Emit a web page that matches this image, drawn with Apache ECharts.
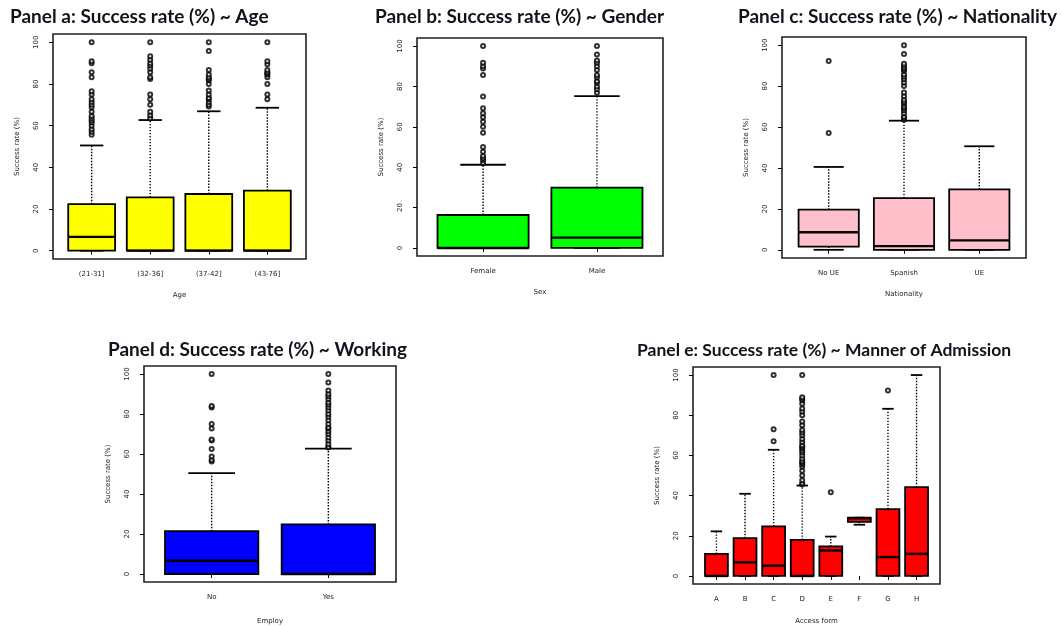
<!DOCTYPE html>
<html>
<head>
<meta charset="utf-8">
<script src="https://cdn.jsdelivr.net/npm/echarts@6/dist/echarts.min.js"></script>
<style>
html,body{margin:0;padding:0;background:#fff;}
#chart{width:1062px;height:626px;}
</style>
</head>
<body>
<div id="chart"></div>
<script>
// ---------- DATA ----------
const yTicks = [0, 20, 40, 60, 80, 100];

// Panel a: Age
const catsAge = ['(21-31]', '(32-36]', '(37-42]', '(43-76]'];
// [lower whisker, Q1, median, Q3, upper whisker]
const statsAge = [
  [0, 0, 6.6, 22.3, 50.5],
  [0, 0, 0, 25.6, 62.7],
  [0, 0, 0, 27.2, 66.9],
  [0, 0, 0, 28.8, 68.6]
];
const outAge = [
  [55.6, 57.1, 58.3, 60, 61.5, 62.5, 63.6, 64.7, 66.7, 68.8, 70, 71.4, 72.7, 75, 76.5, 83.3, 85.7, 90, 90.9, 100],
  [63.6, 65, 66.7, 70, 72.7, 75, 82.4, 83.3, 85.7, 87.5, 88.9, 90, 91.7, 93.3, 100],
  [69.2, 70, 71.4, 72.7, 73.3, 75, 76.9, 80, 81.8, 82.4, 83.3, 84.6, 86.7, 95.8, 100],
  [72.7, 75, 80, 83.3, 84.6, 85, 85.7, 86.7, 89.5, 90.9, 100]
];

// Panel b: Gender
const catsSex = ['Female', 'Male'];
const statsSex = [
  [0, 0, 0, 16.3, 41.2],
  [0, 0, 5.1, 29.9, 75.2]
];
const outSex = [
  [42.1, 43.5, 44.4, 45.5, 47.6, 50, 57.1, 60, 62.5, 64.7, 66.7, 69.2, 75, 85.7, 88.9, 90, 91.7, 100],
  [76.9, 78.6, 80, 81.8, 82.6, 84.6, 85.7, 88.2, 90, 91.7, 92.9, 95.8, 100]
];

// Panel c: Nationality
const catsNat = ['No UE', 'Spanish', 'UE'];
const statsNat = [
  [0, 1.6, 8.6, 19.6, 40.5],
  [0, 0, 1.8, 25.3, 63.1],
  [0, 0, 4.6, 29.5, 50.6]
];
const outNat = [
  [57.1, 92.3],
  [63.6, 64.3, 65, 66.7, 68.2, 69.2, 70, 71.4, 72.2, 73.3, 75, 76.9, 80, 81.8, 83.3, 84.6, 85.7, 87.5, 88.2, 88.9, 90, 90.9, 95.7, 100],
  []
];

// Panel d: Working
const catsWork = ['No', 'Yes'];
const statsWork = [
  [0, 0, 6.6, 21.4, 50.4],
  [0, 0, 0, 24.8, 62.7]
];
const outWork = [
  [56.3, 57, 58.8, 62.5, 66.7, 67.3, 72.7, 75, 83.3, 84, 100],
  [63.2, 63.6, 65, 66.7, 68.2, 70, 71.4, 72.7, 73.3, 75, 76.9, 78.6, 80, 81.8, 83.3, 84.6, 85.7, 87.5, 88.9, 90, 91.7, 95.7, 100]
];

// Panel e: Manner of admission
const catsAdm = ['A', 'B', 'C', 'D', 'E', 'F', 'G', 'H'];
const statsAdm = [
  [0, 0, 0, 11.0, 22.2],
  [0, 0, 6.8, 18.8, 40.9],
  [0, 0, 5.1, 24.7, 62.8],
  [0, 0, 0, 18.0, 45.0],
  [0, 0, 12.7, 14.7, 19.6],
  [25.5, 26.9, 28.4, 29.0, 29.0],
  [0, 0, 9.4, 33.3, 83.2],
  [0, 0, 11.0, 44.2, 100]
];
const outAdm = [
  [],
  [],
  [67, 73, 100],
  [45.5, 46.2, 47.6, 50, 52.4, 54.5, 55.6, 56.3, 57.1, 58.3, 60, 61.5, 62.5, 63.6, 64.3, 65, 66.7, 68.2, 70, 71.4, 72.7, 75, 76.9, 80, 81.8, 83.3, 85.7, 87.5, 88.2, 88.9, 100],
  [41.7],
  [],
  [92.3],
  []
];

// ---------- LAYOUT / STYLE ----------
const panels = [
  { title: 'Panel a: Success rate (%) ~ Age', tx: 10, ty: 7, fs: 19, cats: catsAge, stats: statsAge, out: outAge, color: '#FFFF00', xname: 'Age', xgap: 33,
    grid: { left: 53, top: 34, width: 253, height: 225 } },
  { title: 'Panel b: Success rate (%) ~ Gender', tx: 375, ty: 7, fs: 19, cats: catsSex, stats: statsSex, out: outSex, color: '#00FF00', xname: 'Sex', xgap: 33,
    grid: { left: 417, top: 38, width: 246, height: 218 } },
  { title: 'Panel c: Success rate (%) ~ Nationality', tx: 738, ty: 7, fs: 19, cats: catsNat, stats: statsNat, out: outNat, color: '#FFC0CB', xname: 'Nationality', xgap: 33,
    grid: { left: 782, top: 37, width: 244, height: 221 } },
  { title: 'Panel d: Success rate (%) ~ Working', tx: 108, ty: 340, fs: 19, cats: catsWork, stats: statsWork, out: outWork, color: '#0000FF', xname: 'Employ', xgap: 36,
    grid: { left: 144, top: 366, width: 252, height: 224 } },
  { title: 'Panel e: Success rate (%) ~ Manner of Admission', tx: 637, ty: 341, fs: 17.5, cats: catsAdm, stats: statsAdm, out: outAdm, color: '#FF0000', xname: 'Access form', xgap: 34,
    grid: { left: 693, top: 367, width: 247, height: 220 } }
];

function boxRenderer(color) {
  return function (params, api) {
    const x = api.value(0), lo = api.value(1), q1 = api.value(2), med = api.value(3), q3 = api.value(4), hi = api.value(5);
    const hw = 0.4, sw = 0.2;
    const tl = api.coord([x - hw, q3]);
    const br = api.coord([x + hw, q1]);
    const dotted = { stroke: '#000', lineWidth: 1.4, lineDash: [1.4, 1.6] };
    const solid = { stroke: '#000', lineWidth: 1.8 };
    const children = [];
    function seg(a, b, style) {
      const p1 = api.coord(a), p2 = api.coord(b);
      children.push({ type: 'line', shape: { x1: p1[0], y1: p1[1], x2: p2[0], y2: p2[1] }, style: style });
    }
    if (hi > q3) seg([x, q3], [x, hi], dotted);
    if (lo < q1) seg([x, q1], [x, lo], dotted);
    seg([x - sw, hi], [x + sw, hi], solid);
    seg([x - sw, lo], [x + sw, lo], solid);
    children.push({ type: 'rect', shape: { x: tl[0], y: tl[1], width: br[0] - tl[0], height: br[1] - tl[1] },
      style: { fill: color, stroke: '#000', lineWidth: 1.8 } });
    const medW = (br[1] - tl[1]) < 6 ? 1.2 : 2.4;
    seg([x - hw, med], [x + hw, med], { stroke: '#000', lineWidth: medW });
    return { type: 'group', children: children };
  };
}

const option = { animation: false, backgroundColor: '#fff', title: [], grid: [], xAxis: [], yAxis: [], series: [] };
const labelFont = { fontSize: 7, color: '#222', fontFamily: 'DejaVu Sans' };

panels.forEach(function (p, i) {
  const n = p.cats.length;
  option.title.push({ text: p.title, left: p.tx, top: p.ty, padding: 0,
    textStyle: { fontFamily: 'Lato', fontWeight: 'bold', fontSize: p.fs, color: '#10131c' } });
  option.grid.push(Object.assign({ show: true, borderColor: '#222', borderWidth: 1.6, backgroundColor: 'transparent' }, p.grid));
  const xs = [];
  for (let k = 1; k <= n; k++) xs.push(k);
  option.xAxis.push({
    type: 'value', gridIndex: i, min: 0.5 - 0.04 * n, max: n + 0.5 + 0.04 * n,
    name: p.xname, nameLocation: 'middle', nameGap: p.xgap, nameTextStyle: labelFont,
    axisLine: { show: false }, splitLine: { show: false },
    axisTick: { show: true, length: 4, customValues: xs, lineStyle: { color: '#000', width: 1 } },
    axisLabel: Object.assign({ customValues: xs, margin: 12, formatter: function (v) { return p.cats[Math.round(v) - 1]; } }, labelFont)
  });
  option.yAxis.push({
    type: 'value', gridIndex: i, min: -4, max: 104,
    name: 'Success rate (%)', nameLocation: 'middle', nameGap: 32, nameRotate: 90, nameTextStyle: labelFont,
    axisLine: { show: false }, splitLine: { show: false },
    axisTick: { show: true, length: 4, customValues: yTicks, lineStyle: { color: '#000', width: 1 } },
    axisLabel: Object.assign({ customValues: yTicks, margin: 13, rotate: 90 }, labelFont)
  });
  option.series.push({
    type: 'custom', xAxisIndex: i, yAxisIndex: i, clip: false,
    renderItem: boxRenderer(p.color),
    encode: { x: 0, y: [1, 2, 3, 4, 5] },
    data: p.stats.map(function (s, k) { return [k + 1].concat(s); }),
    z: 2
  });
  const pts = [];
  p.out.forEach(function (arr, k) { arr.forEach(function (v) { pts.push([k + 1, v]); }); });
  option.series.push({
    type: 'scatter', xAxisIndex: i, yAxisIndex: i, symbol: 'emptyCircle', symbolSize: 4,
    itemStyle: { color: '#000', borderColor: '#000', borderWidth: 1.1 },
    data: pts, z: 3, silent: true
  });
});

const chart = echarts.init(document.getElementById('chart'), null, { renderer: 'canvas' });
chart.setOption(option);
</script>
</body>
</html>
